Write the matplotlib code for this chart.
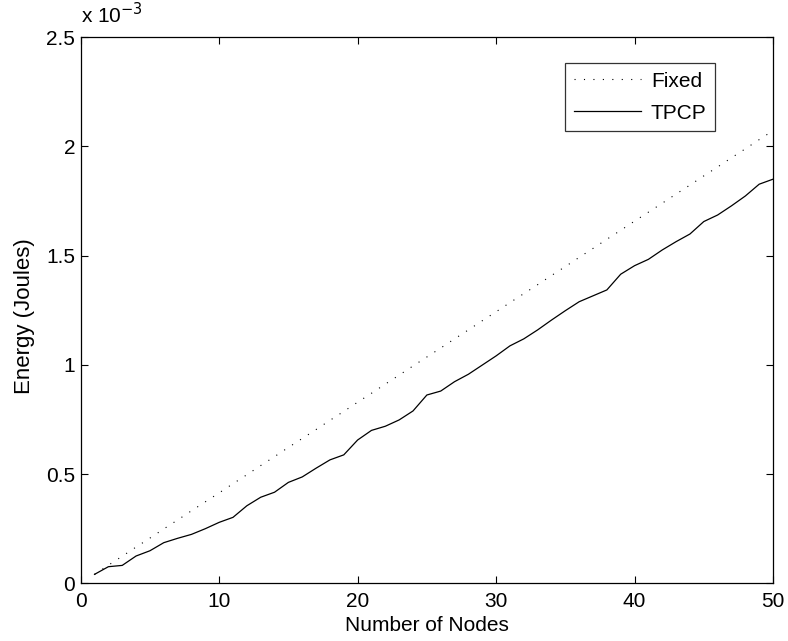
import matplotlib.pyplot as plt

plt.rcParams['font.family'] = ['Liberation Sans', 'DejaVu Sans']

# data (energy in units of 1e-3 Joules)
nodes = list(range(1, 51))
fixed = [0.041, 0.083, 0.124, 0.166, 0.207, 0.249, 0.290, 0.332, 0.373, 0.414,
         0.456, 0.497, 0.539, 0.580, 0.622, 0.663, 0.704, 0.746, 0.787, 0.829,
         0.870, 0.912, 0.953, 0.995, 1.036, 1.077, 1.119, 1.160, 1.202, 1.243,
         1.285, 1.326, 1.367, 1.409, 1.450, 1.492, 1.533, 1.575, 1.616, 1.658,
         1.699, 1.740, 1.782, 1.823, 1.865, 1.906, 1.948, 1.989, 2.031, 2.072]
tpcp = [0.041, 0.076, 0.082, 0.125, 0.149, 0.186, 0.206, 0.224, 0.250, 0.279,
        0.302, 0.355, 0.394, 0.417, 0.462, 0.487, 0.527, 0.565, 0.588, 0.656,
        0.700, 0.719, 0.748, 0.789, 0.862, 0.880, 0.923, 0.957, 0.999, 1.041,
        1.087, 1.119, 1.160, 1.205, 1.248, 1.289, 1.316, 1.343, 1.415, 1.454,
        1.483, 1.526, 1.564, 1.599, 1.656, 1.686, 1.728, 1.773, 1.827, 1.850]
xticks = [0, 10, 20, 30, 40, 50]
yticks = [0, 0.5, 1, 1.5, 2, 2.5]
yticklabels = ['0', '0.5', '1', '1.5', '2', '2.5']

fig = plt.figure(figsize=(7.88, 6.41), dpi=100)
ax = fig.add_axes([0.1024, 0.090, 0.8786, 0.852])

ax.plot(nodes, fixed, color='black', linewidth=0.8, linestyle=(0, (1, 7.5)), label='Fixed')
ax.plot(nodes, tpcp, color='black', linewidth=0.9, label='TPCP')

ax.set_xlim(0, 50)
ax.set_ylim(0, 2.5)
ax.set_xticks(xticks)
ax.set_yticks(yticks)
ax.set_yticklabels(yticklabels)
ax.tick_params(direction='in', top=True, right=True, labelsize=15, length=5, width=0.8)
ax.tick_params(axis='x', pad=6)
ax.tick_params(axis='y', pad=4)
for s in ax.spines.values():
    s.set_linewidth(0.9)

ax.set_xlabel('Number of Nodes', fontsize=15, labelpad=4)
ax.set_ylabel('Energy (Joules)', fontsize=16)
ax.yaxis.set_label_coords(-0.066, 0.489)
ax.text(0.0, 1.018, r'x 10$^{-3}$', transform=ax.transAxes, fontsize=15, ha='left', va='bottom')

leg = ax.legend(loc='upper right', bbox_to_anchor=(0.916, 0.952), fancybox=False,
                edgecolor='black', fontsize=15, handlelength=3.25, borderpad=0.4,
                labelspacing=0.62, handletextpad=0.45, borderaxespad=0)
leg.get_frame().set_linewidth(0.9)

plt.savefig('out.png', dpi=100)
